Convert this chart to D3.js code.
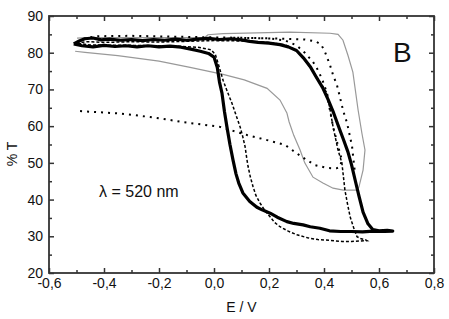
<!doctype html>
<html>
<head>
  <script src="https://cdnjs.cloudflare.com/ajax/libs/d3/7.8.5/d3.min.js"></script>
  <style>
    body { margin: 0; background: #fff; }
    text { font-family: "Liberation Sans", Arial, sans-serif; fill: #111; }
  </style>
</head>
<body>
<svg id="chart" width="449" height="319"></svg>
<script>
// ticks
var xMajor = [-0.6, -0.4, -0.2, 0.0, 0.2, 0.4, 0.6, 0.8];
var xMinor = [-0.5, -0.3, -0.1, 0.1, 0.3, 0.5, 0.7];
var yMajor = [20, 30, 40, 50, 60, 70, 80, 90];
var yMinor = [25, 35, 45, 55, 65, 75, 85];

// thick solid loop [E, %T]
var thickLoop = [[-0.51,82.4],[-0.49,83.2],[-0.47,83.8],[-0.44,84.0],[-0.41,83.5],[-0.38,83.7],[-0.34,83.4],
  [-0.30,83.6],[-0.26,83.3],[-0.22,83.6],[-0.18,83.4],[-0.14,83.7],[-0.10,83.4],[-0.06,83.7],[-0.02,83.9],
  [0.02,83.6],[0.06,83.8],[0.10,83.5],[0.13,83.1],[0.16,82.8],[0.20,82.6],[0.24,82.2],[0.27,81.6],[0.30,80.6],
  [0.325,78.6],[0.35,76.2],[0.37,73.6],[0.395,70.5],[0.415,67.2],[0.435,63.6],[0.455,59.5],[0.47,56.5],
  [0.487,53.0],[0.50,49.5],[0.513,45.4],[0.527,41.0],[0.542,36.6],[0.56,33.4],[0.578,31.8],[0.60,31.5],
  [0.63,31.6],[0.65,31.4],[0.62,31.3],[0.58,31.4],[0.54,31.2],[0.50,31.3],[0.46,31.3],[0.42,31.5],
  [0.385,32.2],[0.35,32.6],[0.324,33.1],[0.29,33.5],[0.265,34.0],[0.23,35.2],[0.204,36.3],[0.175,37.2],
  [0.156,37.9],[0.13,39.5],[0.105,41.8],[0.09,44.5],[0.08,47.0],[0.069,50.8],[0.058,55.0],[0.047,59.8],
  [0.038,64.0],[0.029,69.0],[0.02,72.0],[0.012,76.0],[0.0,78.8],[-0.02,79.8],[-0.05,80.4],[-0.08,80.9],
  [-0.12,81.5],[-0.16,81.8],[-0.20,81.6],[-0.24,81.9],[-0.28,81.6],[-0.32,81.9],[-0.36,81.7],[-0.40,82.0],
  [-0.44,81.6],[-0.48,81.9],[-0.51,82.4]];

// dashed loop
var dashedLoop = [[-0.50,82.6],[-0.46,83.0],[-0.40,82.8],[-0.30,83.0],[-0.20,82.9],[-0.10,83.1],[0.0,83.3],
  [0.10,83.2],[0.20,82.8],[0.26,82.1],[0.30,80.6],[0.33,78.0],[0.36,75.0],[0.39,71.5],[0.411,69.0],
  [0.422,64.5],[0.433,59.8],[0.451,53.5],[0.465,50.0],[0.471,46.0],[0.476,42.6],[0.485,39.0],[0.495,35.3],
  [0.508,32.3],[0.52,29.9],[0.535,29.3],[0.549,29.1],[0.556,28.8],[0.53,28.7],[0.50,28.6],[0.465,28.6],
  [0.42,28.9],[0.378,29.1],[0.34,29.6],[0.302,30.4],[0.27,31.4],[0.24,32.6],[0.22,33.8],[0.204,35.3],
  [0.185,37.0],[0.167,39.1],[0.152,41.2],[0.142,43.5],[0.132,46.2],[0.124,49.0],[0.12,50.8],[0.113,54.4],
  [0.105,57.0],[0.095,59.8],[0.08,63.0],[0.065,66.3],[0.048,69.5],[0.033,72.5],[0.015,77.1],[0.005,79.5],
  [-0.01,80.8],[-0.06,81.5],[-0.15,81.8],[-0.30,82.0],[-0.45,82.1],[-0.50,82.6]];

// dotted scan: lower branch, rise, top leftwards
var dottedA = [[-0.487,64.1],[-0.42,63.8],[-0.353,63.5],[-0.29,63.0],[-0.233,62.5],[-0.17,61.8],[-0.113,61.1],
  [-0.06,60.6],[0.022,59.8],[0.07,58.7],[0.12,57.6],[0.193,56.2],[0.258,54.9],[0.284,53.5],[0.32,51.6],
  [0.367,49.4],[0.411,48.6],[0.445,48.5],[0.458,48.9],[0.465,50.8],[0.455,53.5],[0.443,57.0],[0.433,59.8],
  [0.42,65.0],[0.411,69.0],[0.397,72.0],[0.38,75.0],[0.36,77.5],[0.33,80.0],[0.30,82.0],[0.26,83.3],
  [0.20,83.9],[0.07,84.1],[-0.10,84.3],[-0.30,84.6],[-0.42,84.5],[-0.47,84.0]];
// dotted scan: top rightwards, outer descent
var dottedB = [[0.07,84.1],[0.15,84.0],[0.25,83.8],[0.33,83.6],[0.37,83.1],[0.39,82.2],[0.404,80.1],
  [0.422,76.6],[0.433,73.9],[0.447,71.2],[0.458,67.9],[0.469,64.4],[0.484,60.8],[0.495,57.0],[0.502,54.5],
  [0.507,51.0],[0.513,47.0]];

// grey loop
var greyLoop = [[-0.498,84.0],[-0.462,84.1],[-0.233,84.1],[-0.033,84.2],[-0.022,84.9],[0.033,85.2],
  [0.156,85.4],[0.276,85.6],[0.422,85.3],[0.451,85.0],[0.469,83.4],[0.487,79.3],[0.505,74.7],[0.524,64.4],
  [0.538,58.0],[0.549,53.5],[0.542,48.0],[0.527,43.4],[0.52,42.6],[0.47,42.6],[0.433,43.1],[0.396,44.5],
  [0.36,46.1],[0.33,50.0],[0.313,53.5],[0.29,57.5],[0.273,61.2],[0.265,63.6],[0.24,67.1],[0.193,70.3],
  [0.11,72.6],[0.033,74.1],[-0.087,76.0],[-0.2,77.7],[-0.35,79.2],[-0.469,80.1],[-0.505,80.4]];

var svg = d3.select("#chart");
var mLeft = 49, mRight = 434, mTop = 16, mBottom = 273;
var x = d3.scaleLinear().domain([-0.6, 0.8]).range([mLeft, mRight]);
var y = d3.scaleLinear().domain([20, 90]).range([mBottom, mTop]);

function fmt(d) {
  return (d < 0 ? "-" : "") + Math.abs(d).toFixed(1).replace(".", ",");
}

function styleAxis(g) {
  g.select(".domain").remove();
  g.selectAll("line").attr("stroke", "#333").attr("stroke-width", 1.5);
  g.selectAll("text").style("font-size", "14px").attr("fill", "#111");
}

// major + minor ticks on all four sides, pointing inward
svg.append("g").attr("transform", "translate(0," + mBottom + ")")
  .call(d3.axisBottom(x).tickValues(xMajor).tickSize(-5).tickPadding(5).tickFormat(fmt)).call(styleAxis);
svg.append("g").attr("transform", "translate(0," + mBottom + ")")
  .call(d3.axisBottom(x).tickValues(xMinor).tickSize(-3).tickFormat("")).call(styleAxis);
svg.append("g").attr("transform", "translate(0," + mTop + ")")
  .call(d3.axisTop(x).tickValues(xMajor).tickSize(-5).tickFormat("")).call(styleAxis);
svg.append("g").attr("transform", "translate(0," + mTop + ")")
  .call(d3.axisTop(x).tickValues(xMinor).tickSize(-3).tickFormat("")).call(styleAxis);
svg.append("g").attr("transform", "translate(" + mLeft + ",0)")
  .call(d3.axisLeft(y).tickValues(yMajor).tickSize(-5).tickPadding(6).tickFormat(d3.format("d"))).call(styleAxis);
svg.append("g").attr("transform", "translate(" + mLeft + ",0)")
  .call(d3.axisLeft(y).tickValues(yMinor).tickSize(-3).tickFormat("")).call(styleAxis);
svg.append("g").attr("transform", "translate(" + mRight + ",0)")
  .call(d3.axisRight(y).tickValues(yMajor).tickSize(-5).tickFormat("")).call(styleAxis);
svg.append("g").attr("transform", "translate(" + mRight + ",0)")
  .call(d3.axisRight(y).tickValues(yMinor).tickSize(-3).tickFormat("")).call(styleAxis);

svg.append("rect")
  .attr("x", mLeft).attr("y", mTop)
  .attr("width", mRight - mLeft).attr("height", mBottom - mTop)
  .attr("fill", "none").attr("stroke", "#333").attr("stroke-width", 1.8);

var line = d3.line().x(d => x(d[0])).y(d => y(d[1]));

svg.append("path").datum(greyLoop).attr("d", line)
  .attr("fill", "none").attr("stroke", "#999").attr("stroke-width", 1.2);
svg.append("path").datum(dottedA).attr("d", line)
  .attr("fill", "none").attr("stroke", "#000").attr("stroke-width", 2).attr("stroke-dasharray", "2,5");
svg.append("path").datum(dottedB).attr("d", line)
  .attr("fill", "none").attr("stroke", "#000").attr("stroke-width", 2).attr("stroke-dasharray", "2,5");
svg.append("path").datum(dashedLoop).attr("d", line)
  .attr("fill", "none").attr("stroke", "#000").attr("stroke-width", 1.5).attr("stroke-dasharray", "3,2");
svg.append("path").datum(thickLoop).attr("d", line)
  .attr("fill", "none").attr("stroke", "#000").attr("stroke-width", 3.2).attr("stroke-linejoin", "round");

// labels
svg.append("text").attr("x", (mLeft + mRight) / 2).attr("y", 312)
  .attr("text-anchor", "middle").style("font-size", "14px").text("E / V");
svg.append("text").attr("transform", "translate(17,154) rotate(-90)")
  .attr("text-anchor", "middle").style("font-size", "14px").text("% T");
svg.append("text").attr("x", 393).attr("y", 62).style("font-size", "28px").text("B");
svg.append("text").attr("x", 99).attr("y", 197).style("font-size", "16px").text("λ = 520 nm");
</script>
</body>
</html>
